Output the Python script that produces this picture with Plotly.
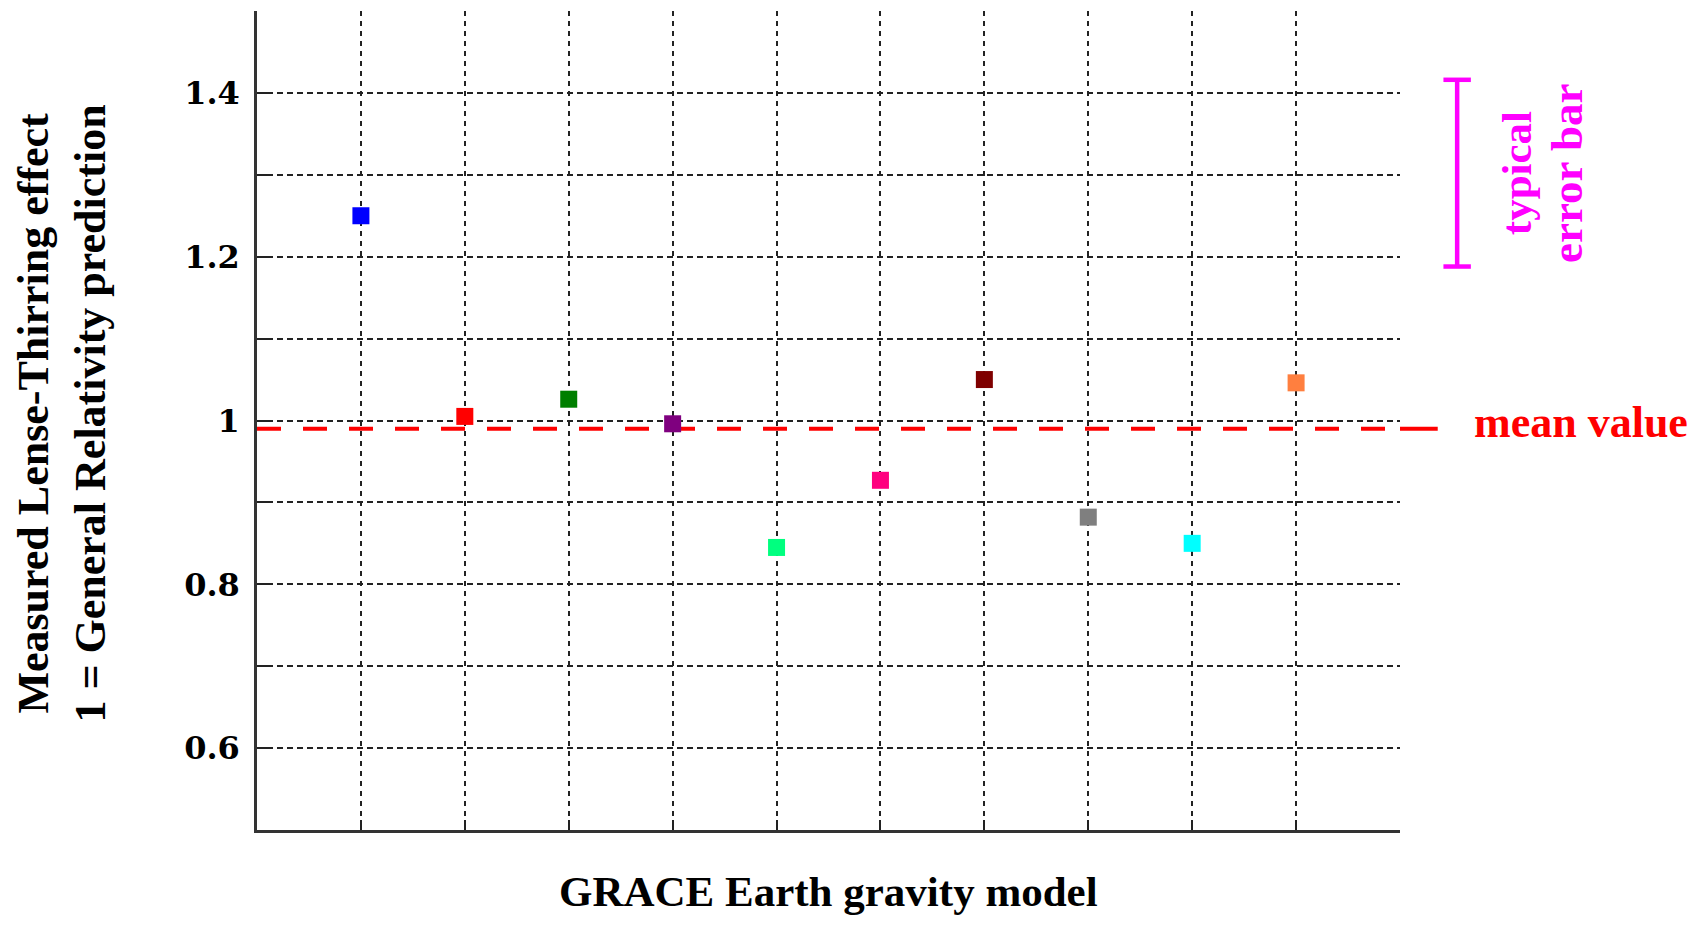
import plotly.graph_objects as go

# ---- data ----
models = [1, 2, 3, 4, 5, 6, 7, 8, 9, 10]
lt_values = [1.25, 1.005, 1.026, 0.996, 0.845, 0.927, 1.050, 0.882, 0.850, 1.046]
marker_colors = ["#0000ff", "#ff0000", "#007f00", "#7f007f", "#00ff7f",
                 "#ff007f", "#7f0000", "#7f7f7f", "#00ffff", "#ff7f3f"]
mean_value = 0.99
errbar_center = 1.302
errbar_half = 0.114
y_tickvals = [0.5, 0.6, 0.7, 0.8, 0.9, 1.0, 1.1, 1.2, 1.3, 1.4, 1.5]
y_ticktext = ["", "0.6", "", "0.8", "", "1", "", "1.2", "", "1.4", ""]
x_gridvals = list(range(0, 12))
x_range = [0, 11]

SERIF = "Liberation Serif, Times New Roman, serif"
RED_DASH = dict(color="#ff0000", width=4, dash="24px,22px")

fig = go.Figure()
# mean value dashed line inside the plot (below the markers)
fig.add_trace(go.Scatter(
    x=x_range, y=[mean_value, mean_value], mode="lines",
    line=RED_DASH, showlegend=False, hoverinfo="skip",
))
fig.add_trace(go.Scatter(
    x=models, y=lt_values, mode="markers",
    marker=dict(symbol="square", size=17, color=marker_colors, line=dict(width=0)),
    showlegend=False, cliponaxis=False,
))

# continuation of the mean line to the right of the plot
fig.add_shape(type="line", xref="x domain", yref="y",
              x0=1.0, x1=1.033, y0=mean_value, y1=mean_value,
              line=dict(color="#ff0000", width=4))

# typical error bar
ex = 1.05
cap = 0.012
fig.add_shape(type="line", xref="x domain", yref="y",
              x0=ex, x1=ex, y0=errbar_center - errbar_half, y1=errbar_center + errbar_half,
              line=dict(color="#ff00ff", width=4.5))
for yv in (errbar_center - errbar_half, errbar_center + errbar_half):
    fig.add_shape(type="line", xref="x domain", yref="y",
                  x0=ex - cap, x1=ex + cap, y0=yv, y1=yv,
                  line=dict(color="#ff00ff", width=4.5))

fig.add_annotation(text="mean value", xref="x domain", yref="y", x=1.063, y=mean_value,
                   xanchor="left", yanchor="middle", showarrow=False, yshift=6,
                   font=dict(family=SERIF, size=44, color="#ff0000", weight="bold"))
fig.add_annotation(text="typical", xref="x domain", yref="y", x=1.1015, y=errbar_center,
                   xanchor="center", yanchor="middle", showarrow=False, textangle=-90,
                   font=dict(family=SERIF, size=43, color="#ff00ff", weight="bold"))
fig.add_annotation(text="error bar", xref="x domain", yref="y", x=1.146, y=errbar_center,
                   xanchor="center", yanchor="middle", showarrow=False, textangle=-90,
                   font=dict(family=SERIF, size=45, color="#ff00ff", weight="bold"))

# axis titles
fig.add_annotation(text="Measured Lense-Thirring effect<br>1 = General Relativity prediction",
                   xref="paper", yref="paper", x=-0.171, y=0.508,
                   xanchor="center", yanchor="middle", showarrow=False, textangle=-90,
                   font=dict(family=SERIF, size=44, color="#000000", weight="bold"))
fig.add_annotation(text="GRACE Earth gravity model",
                   xref="paper", yref="paper", x=0.500, y=-0.075,
                   xanchor="center", yanchor="middle", showarrow=False,
                   font=dict(family=SERIF, size=43, color="#000000", weight="bold"))

fig.update_xaxes(range=x_range, tickvals=x_gridvals, showticklabels=False,
                 showgrid=True, gridcolor="#222222", gridwidth=2, griddash="5px,5px",
                 showline=True, linecolor="#333333", linewidth=2.5,
                 ticks="inside", ticklen=10, tickwidth=2, tickcolor="#222222",
                 zeroline=False, fixedrange=True)
fig.update_yaxes(range=[0.5, 1.5], tickvals=y_tickvals, ticktext=y_ticktext,
                 showgrid=True, gridcolor="#222222", gridwidth=2, griddash="6px,4px",
                 showline=True, linecolor="#333333", linewidth=2.5,
                 ticks="inside", ticklen=10, tickwidth=2, tickcolor="#222222",
                 ticklabelstandoff=8,
                 tickfont=dict(family="DejaVu Serif, serif", size=32, color="#000000", weight="bold"),
                 zeroline=False, fixedrange=True)

fig.update_layout(
    width=1694, height=912,
    margin=dict(l=249, r=302, t=3, b=90, pad=0),
    plot_bgcolor="white", paper_bgcolor="white",
    showlegend=False,
)

fig.write_html("out.html")
